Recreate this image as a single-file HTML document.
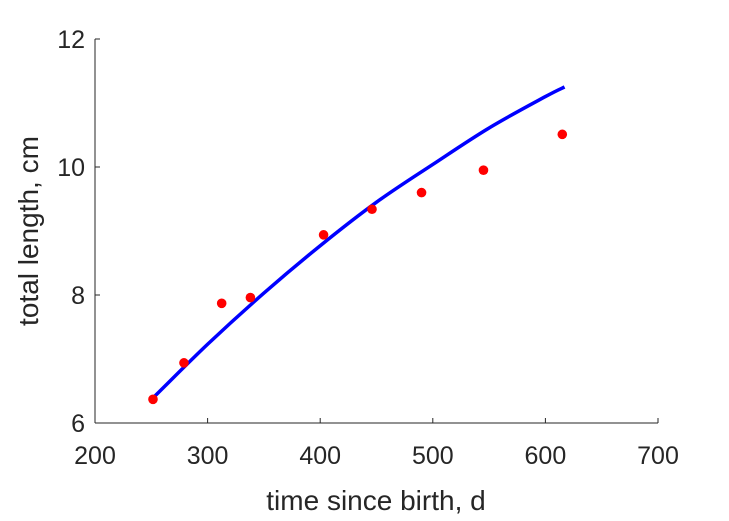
<!DOCTYPE html>
<html><head><meta charset="utf-8"><style>
body{margin:0;background:#fff;}
svg{display:block;font-family:"Liberation Sans",sans-serif;}
</style></head><body>
<svg id="chart" width="729" height="521">
<g id="axes"></g><g id="curve"></g><g id="pts"></g>
</svg>
<script>
const xTicks=[200,300,400,500,600,700];
const yTicks=[6,8,10,12];
const obsT=[251.5,279,312.5,338,403,446,490,545,615];
const obsL=[6.37,6.94,7.87,7.96,8.94,9.34,9.60,9.95,10.51];
const fitT=[252,300,350,400,450,500,550,600,617];
const fitL=[6.40,7.23,8.03,8.77,9.45,10.04,10.61,11.10,11.25];
const X0=95,X1=658,Y0=423,Y1=39;
const sx=v=>X0+(v-200)/500*(X1-X0);
const sy=v=>Y0-(v-6)/6*(Y0-Y1);
const NS="http://www.w3.org/2000/svg";
function mk(t,a,p){const e=document.createElementNS(NS,t);for(const k in a)e.setAttribute(k,a[k]);p.appendChild(e);return e;}
const ax=document.getElementById('axes');
let xa=mk('line',{x1:X0,y1:Y0,x2:X1,y2:Y0,stroke:'#262626','stroke-width':1},ax);


let ya=mk('line',{x1:X0,y1:Y0,x2:X0,y2:Y1,stroke:'#262626','stroke-width':1},ax);


xTicks.forEach(v=>{
 mk('line',{x1:sx(v),y1:Y0,x2:sx(v),y2:Y0-5,stroke:'#262626'},ax);
 const t=mk('text',{x:sx(v),y:Y0+41,'text-anchor':'middle','font-size':25,fill:'#262626'},ax);
 t.textContent=v;
 
 
});
yTicks.forEach(v=>{
 mk('line',{x1:X0,y1:sy(v),x2:X0+5,y2:sy(v),stroke:'#262626'},ax);
 const t=mk('text',{x:X0-10,y:sy(v)+9,'text-anchor':'end','font-size':25,fill:'#262626'},ax);
 t.textContent=v;
 
 
});
const xt=mk('text',{x:376,y:510,'text-anchor':'middle','font-size':28,fill:'#262626'},ax);
xt.textContent='time since birth, d';


const yt=mk('text',{x:0,y:0,'text-anchor':'middle','font-size':28,fill:'#262626',transform:'translate(38,231) rotate(-90)'},ax);
yt.textContent='total length, cm';


const P=fitT.map((t,i)=>[sx(t),sy(fitL[i])]);
let d='M'+P[0][0]+','+P[0][1];
for(let i=0;i<P.length-1;i++){
 const p0=P[i-1]||P[i],p1=P[i],p2=P[i+1],p3=P[i+2]||P[i+1];
 d+=` C${p1[0]+(p2[0]-p0[0])/6},${p1[1]+(p2[1]-p0[1])/6} ${p2[0]-(p3[0]-p1[0])/6},${p2[1]-(p3[1]-p1[1])/6} ${p2[0]},${p2[1]}`;
}
const c=mk('path',{d:d,fill:'none',stroke:'#0000ff','stroke-width':3.5},document.getElementById('curve'));


const pg=document.getElementById('pts');
obsT.forEach((t,i)=>{
 const e=mk('circle',{cx:sx(t),cy:sy(obsL[i]),r:4.8,fill:'#ff0000'},pg);
 
 
});
</script>
</body></html>
